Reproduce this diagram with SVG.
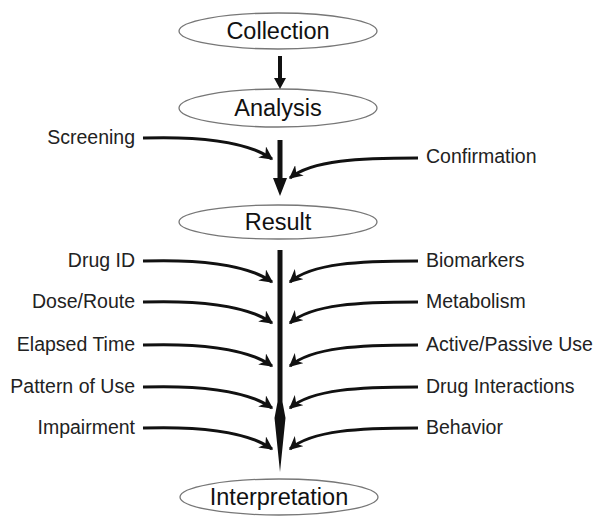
<svg xmlns="http://www.w3.org/2000/svg" width="600" height="525" viewBox="0 0 600 525">
<defs>
<style>
.node ellipse{fill:#fff;stroke:#777;stroke-width:1.3}
.node text{font-family:"Liberation Sans",Arial,sans-serif;font-size:23.5px;fill:#111;text-anchor:middle}
.lbl{font-family:"Liberation Sans",Arial,sans-serif;font-size:19.5px;fill:#222}
.l{text-anchor:end}
.c{fill:none;stroke:#111;stroke-width:3}
</style>
<marker id="ah" viewBox="0 0 10 10" refX="9" refY="5" markerWidth="4.5" markerHeight="4.5" orient="auto" markerUnits="strokeWidth">
<path d="M0,0 L10,5 L0,10 L3,5 Z" fill="#111"/>
</marker>
</defs>
<rect width="600" height="525" fill="#fff"/>
<g id="collection" class="node"><ellipse cx="278" cy="31" rx="99" ry="18"/><text x="278" y="39">Collection</text></g>
<g id="analysis" class="node"><ellipse cx="278" cy="108" rx="99" ry="19"/><text x="278" y="116">Analysis</text></g>
<g id="result" class="node"><ellipse cx="278" cy="222" rx="99" ry="17"/><text x="278" y="230">Result</text></g>
<g id="interpretation" class="node"><ellipse cx="279" cy="497" rx="99" ry="18"/><text x="279" y="505">Interpretation</text></g>
<g id="labels">
<text class="lbl l" x="135" y="144">Screening</text>
<text class="lbl" x="426" y="163">Confirmation</text>
<text class="lbl l" x="135" y="267">Drug ID</text>
<text class="lbl l" x="135" y="308">Dose/Route</text>
<text class="lbl l" x="135" y="351">Elapsed Time</text>
<text class="lbl l" x="135" y="393">Pattern of Use</text>
<text class="lbl l" x="135" y="434">Impairment</text>
<text class="lbl" x="426" y="267">Biomarkers</text>
<text class="lbl" x="426" y="308">Metabolism</text>
<text class="lbl" x="426" y="351">Active/Passive Use</text>
<text class="lbl" x="426" y="393">Drug Interactions</text>
<text class="lbl" x="426" y="434">Behavior</text>
</g>
<g id="connectors">
<path d="M278,56 L282,56 L282,78 L286,78 L280,89 L274,78 L278,78 Z" fill="#111"/>
<path d="M277.5,140 L282.5,140 L282.5,178 L287,178 L280,196 L273,178 L277.5,178 Z" fill="#111"/>
<path d="M277.5,250 L282.5,250 L282.5,402 L285.5,418 L280,472 L274.5,418 L277.5,402 Z" fill="#111"/>
<path class="c" marker-end="url(#ah)" d="M143,138 C205,136 248,142 272,159"/>
<path class="c" marker-end="url(#ah)" d="M418,158 C360,158 312,160 290,178"/>
<path class="c" marker-end="url(#ah)" d="M143,261 C205,259 248,265 272,282"/>
<path class="c" marker-end="url(#ah)" d="M143,302 C205,300 248,306 272,323"/>
<path class="c" marker-end="url(#ah)" d="M143,345 C205,343 248,349 272,366"/>
<path class="c" marker-end="url(#ah)" d="M143,387 C205,385 248,391 272,408"/>
<path class="c" marker-end="url(#ah)" d="M143,428 C205,426 248,432 272,449"/>
<path class="c" marker-end="url(#ah)" d="M418,261 C360,261 312,263 290,282"/>
<path class="c" marker-end="url(#ah)" d="M418,302 C360,302 312,304 290,323"/>
<path class="c" marker-end="url(#ah)" d="M418,345 C360,345 312,347 290,366"/>
<path class="c" marker-end="url(#ah)" d="M418,387 C360,387 312,389 290,408"/>
<path class="c" marker-end="url(#ah)" d="M418,428 C360,428 312,430 290,449"/>
</g>
</svg>
